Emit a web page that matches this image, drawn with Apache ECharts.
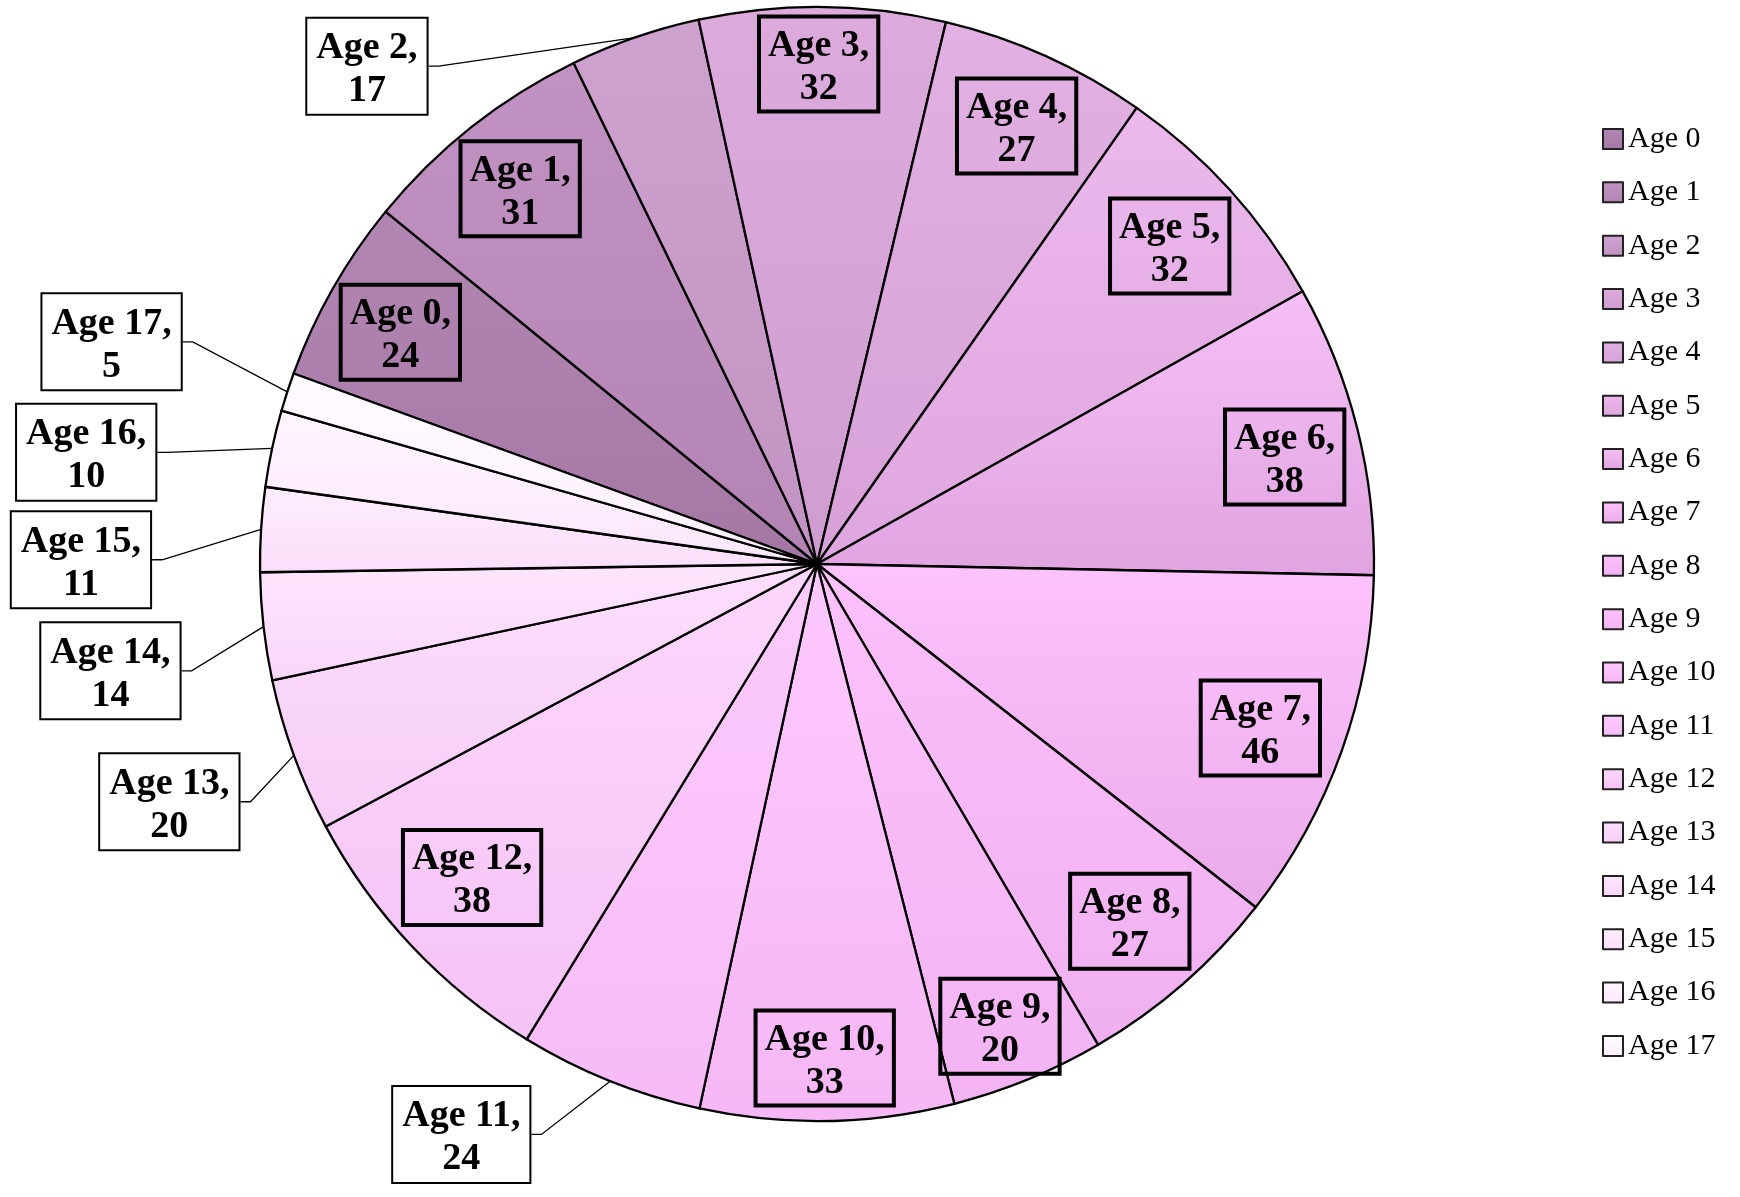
<!DOCTYPE html>
<html><head><meta charset="utf-8">
<script src="https://cdn.jsdelivr.net/npm/echarts@6/dist/echarts.min.js"></script>
<style>html,body{margin:0;padding:0;background:#fff}#c{width:1740px;height:1197px}</style>
</head><body><div id="c"></div>
<script>
// ---- data ----
const categories = ['Age 0','Age 1','Age 2','Age 3','Age 4','Age 5','Age 6','Age 7','Age 8',
  'Age 9','Age 10','Age 11','Age 12','Age 13','Age 14','Age 15','Age 16','Age 17'];
const counts = [24,31,17,32,27,32,38,46,27,20,33,24,38,20,14,11,10,5];
const outsideLabelNames = ['Age 2','Age 11','Age 13','Age 14','Age 15','Age 16','Age 17'];

// ---- styles ----
const topColors = ['#b286b2','#c292c2','#cea2ce','#dcabdc','#e2b0e2','#ecb8ec','#f6bff6','#fdc3fd','#fcc0fc',
  '#fcc2fc','#fdc9fd','#fdcbfd','#fdd7fd','#fddefd','#fee6fe','#feeefe','#fff5ff','#fffbff'];
const bottomColors = ['#a577a5','#b383b3','#c293c2','#d09cd0','#d7a1d7','#dea6de','#e0a4e0','#eaaaea','#f0b0f0',
  '#f3b3f3','#f5b7f5','#f6bbf6','#f5c2f5','#f6cdf6','#f9d6f9','#fadefa','#fbe7fb','#fcefff'];
// label fine-tuning offsets [dx, dy] from library default positions
const outsideNudge = {'Age 2':[-192,38],'Age 17':[-84,-47],'Age 16':[-94,6],'Age 15':[-88,31],
  'Age 14':[-61,43],'Age 13':[-33,43],'Age 11':[-64,44]};
const insideNudge = {'Age 0':[-2,4],'Age 1':[-1,-1],'Age 3':[-3,-23],'Age 4':[4,-3],'Age 5':[-1,2],
  'Age 6':[5,9],'Age 7':[-6,4],'Age 8':[-1,-2],'Age 9':[2,21],'Age 10':[-1,17],'Age 12':[2,-14]};

const PIE_CENTER = [817, 564];
const PIE_R = 557;

const richText = {
  a: {fontFamily: 'Liberation Serif', fontWeight: 'bold', fontSize: 38, lineHeight: 43,
      color: '#000', align: 'center'}
};
const labelBox = {
  formatter: '{a|{b},}\n{a|{c}}',
  rich: richText,
  borderColor: '#000', borderWidth: 2, padding: [8, 9, 1, 9]
};

function grad(i) {
  return {type: 'linear', x: 0, y: 0, x2: 0, y2: 1,
    colorStops: [{offset: 0, color: topColors[i]}, {offset: 1, color: bottomColors[i]}]};
}

const mainData = categories.map((name, i) => {
  const out = outsideLabelNames.includes(name);
  return {
    name, value: counts[i],
    itemStyle: {color: grad(i)},
    label: out ? Object.assign({show: true, position: 'outside', backgroundColor: '#fff'}, labelBox) : {show: false},
    labelLine: {show: out}
  };
});
const overlayData = categories.map((name, i) => {
  const out = outsideLabelNames.includes(name);
  return {
    name, value: counts[i],
    label: out ? {show: false} : Object.assign({show: true, position: 'inside', backgroundColor: 'transparent'}, labelBox)
  };
});

const chart = echarts.init(document.getElementById('c'), null, {renderer: 'canvas'});
chart.setOption({
  animation: false,
  backgroundColor: '#fff',
  legend: {
    orient: 'vertical', left: 1602, top: 124, padding: 0,
    itemWidth: 20, itemHeight: 20, itemGap: 23.35, itemTextGap: 5,
    selectedMode: false, icon: 'rect',
    data: categories,
    textStyle: {fontFamily: 'Liberation Serif', fontSize: 30, color: '#000', lineHeight: 30},
    itemStyle: {borderColor: '#222', borderWidth: 2}
  },
  series: [
    {
      type: 'pie', center: PIE_CENTER, radius: PIE_R, startAngle: 160, clockwise: true,
      avoidLabelOverlap: false, silent: true,
      itemStyle: {borderColor: '#000', borderWidth: 2.3},
      labelLine: {length: 10, length2: 10, lineStyle: {color: '#000', width: 1.3}, smooth: false},
      label: {show: false, distanceToLabelLine: 5},
      emphasis: {disabled: true},
      data: mainData,
      labelLayout: function (p) {
        const n = outsideNudge[categories[p.dataIndex]];
        if (!n) return {};
        const r = p.labelRect;
        return {x: r.x + r.width + n[0], y: r.y + r.height / 2 + n[1], align: 'right', verticalAlign: 'middle'};
      }
    },
    {
      type: 'pie', center: PIE_CENTER, radius: [391, PIE_R], startAngle: 160, clockwise: true,
      avoidLabelOverlap: false, silent: true, legendHoverLink: false,
      itemStyle: {color: 'rgba(0,0,0,0)', borderWidth: 0},
      labelLine: {show: false},
      emphasis: {disabled: true},
      data: overlayData,
      labelLayout: function (p) {
        const n = insideNudge[categories[p.dataIndex]];
        if (!n) return {};
        const r = p.labelRect;
        return {x: r.x + r.width / 2 + n[0], y: r.y + r.height / 2 + n[1], align: 'center', verticalAlign: 'middle'};
      }
    }
  ]
});
</script>
</body></html>
